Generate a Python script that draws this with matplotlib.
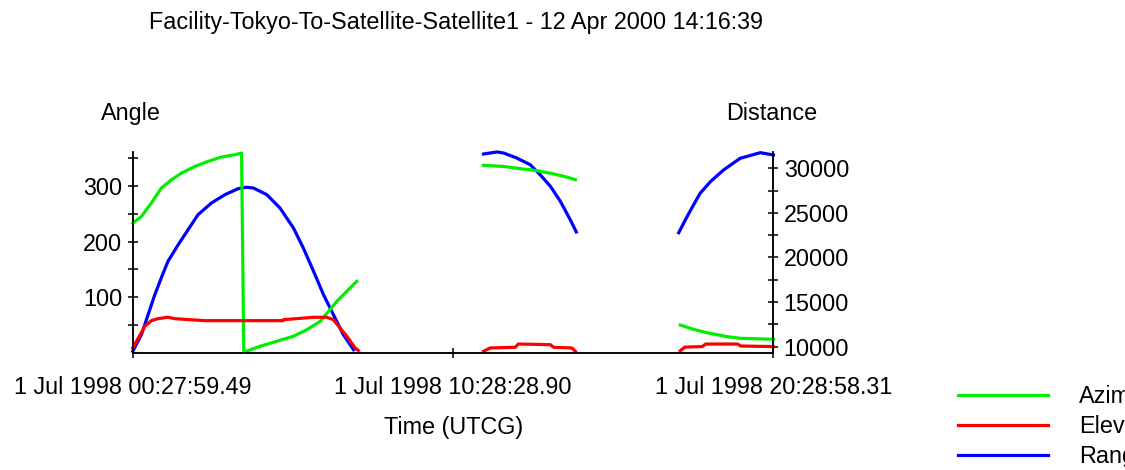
import numpy as np
import matplotlib
matplotlib.use("Agg")
import matplotlib.pyplot as plt

plt.rcParams['font.family'] = ['Liberation Sans', 'DejaVu Sans']

# time axis in hours after 1 Jul 1998 00:27:59.49
tick_hours = [0, 10.008, 20.016]
tick_labels = ['1 Jul 1998 00:27:59.49', '1 Jul 1998 10:28:28.90', '1 Jul 1998 20:28:58.31']

# pass 1
p1_az_t = [0, 0.27, 0.58, 0.89, 1.21, 1.52, 1.94, 2.35, 2.77, 3.19, 3.40, 3.47,
           3.98, 4.50, 5.02, 5.44, 5.86, 6.12, 6.38, 6.69, 7.00]
p1_az = [233, 245, 269, 296, 311, 323, 335, 344, 352, 356, 359, 1,
         11.5, 20.5, 29.5, 41.4, 56.5, 74.5, 92.5, 110.5, 128.5]
p1_el_t = [0, 0.17, 0.38, 0.58, 0.79, 1.10, 1.31, 2.25, 4.70, 4.71, 5.65, 6.06,
           6.27, 6.48, 6.69, 6.95, 7.05]
p1_el = [8.5, 26, 47.5, 57.6, 61.2, 63.7, 61.2, 57.6, 57.6, 59.4, 63.7, 63.7,
         59.4, 44.4, 29.5, 8.5, 4]
p1_rg_t = [0, 0.27, 0.48, 0.69, 0.89, 1.10, 1.42, 1.73, 2.04, 2.46, 2.88, 3.29,
           3.55, 3.77, 4.19, 4.60, 5.02, 5.33, 5.65, 5.96, 6.27, 6.58, 6.90]
p1_rg = [9480, 11350, 13590, 15830, 17700, 19570, 21430, 23120, 24800, 26110, 27040, 27710,
         27870, 27790, 27040, 25550, 23310, 21060, 18450, 15830, 13590, 11350, 9660]

# pass 2
p2_az_t = [10.96, 11.59, 12.11, 12.63, 13.15, 13.57, 13.83]
p2_az = [337, 335, 331, 327.5, 321.6, 315.6, 311.3]
p2_el_t = [10.96, 11.17, 11.95, 12.05, 13.05, 13.15, 13.72, 13.83]
p2_el = [2.5, 8.5, 9.7, 15.6, 14.4, 9.7, 8.5, 2.5]
p2_rg_t = [10.96, 11.38, 11.59, 12.00, 12.42, 12.73, 13.05, 13.36, 13.67, 13.86]
p2_rg = [31600, 31830, 31710, 31150, 30400, 29280, 27980, 26300, 24240, 22860]

# pass 3
p3_az_t = [17.11, 17.52, 17.94, 18.57, 18.98, 20.02]
p3_az = [49.8, 42, 36, 28.8, 25.9, 24.1]
p3_el_t = [17.11, 17.25, 17.8, 17.9, 18.9, 19.0, 20.02]
p3_el = [3.6, 10, 11, 15.6, 15.6, 12, 11]
p3_rg_t = [17.06, 17.32, 17.52, 17.73, 18.05, 18.46, 18.98, 19.61, 20.02]
p3_rg = [22780, 24570, 25880, 27200, 28500, 29810, 31120, 31750, 31490]

green = '#00ee00'
red = '#ff0000'
blue = '#0000ff'
lw = 2.3
fs = 16.8

fig = plt.figure(figsize=(11.25, 4.7), dpi=100)
ax = fig.add_axes([0.118, 0.2496, 0.5694, 0.427])
ax2 = ax.twinx()

ax.set_zorder(2)
ax.patch.set_visible(False)

l_az, = ax.plot(p1_az_t, p1_az, color=green, lw=lw, clip_on=False)
ax.plot(p2_az_t, p2_az, color=green, lw=lw, clip_on=False)
ax.plot(p3_az_t, p3_az, color=green, lw=lw, clip_on=False)
l_el, = ax.plot(p1_el_t, p1_el, color=red, lw=lw, clip_on=False)
ax.plot(p2_el_t, p2_el, color=red, lw=lw, clip_on=False)
ax.plot(p3_el_t, p3_el, color=red, lw=lw, clip_on=False)
l_rg, = ax2.plot(p1_rg_t, p1_rg, color=blue, lw=lw, clip_on=False)
ax2.plot(p2_rg_t, p2_rg, color=blue, lw=lw, clip_on=False)
ax2.plot(p3_rg_t, p3_rg, color=blue, lw=lw, clip_on=False)

ax.set_xlim(0, 20.016)
ax.set_ylim(0, 361)
ax2.set_ylim(9327, 31826)

for a in (ax, ax2):
    a.spines['top'].set_visible(False)
    for s in a.spines.values():
        s.set_linewidth(1.1)

ax.set_yticks([100, 200, 300])
ax.set_yticks([50, 150, 250, 350], minor=True)
ax2.set_yticks([10000, 15000, 20000, 25000, 30000])
ax2.set_yticks([12500, 17500, 22500, 27500], minor=True)
ax.set_xticks(tick_hours)
ax.set_xticklabels(tick_labels)

for a in (ax, ax2):
    a.tick_params(which='both', direction='inout', length=7, width=1.1,
                  labelsize=fs, pad=4)
ax.tick_params(axis='x', pad=13)

fig.text(0.405, 0.953, 'Facility-Tokyo-To-Satellite-Satellite1 - 12 Apr 2000 14:16:39',
         ha='center', va='center', fontsize=fs)
fig.text(0.1164, 0.745, 'Angle', ha='center', va='baseline', fontsize=fs)
fig.text(0.686, 0.745, 'Distance', ha='center', va='baseline', fontsize=fs)
fig.text(0.403, 0.0894, 'Time (UTCG)', ha='center', va='center', fontsize=fs)

fig.legend([l_az, l_el, l_rg], ['Azimuth', 'Elevation', 'Range'],
           loc='upper left', bbox_to_anchor=(958 / 1125, 0.18),
           frameon=False, borderpad=0, borderaxespad=0, fontsize=fs,
           handlelength=3.85, handletextpad=1.35, labelspacing=0.3)

fig.savefig('out.png', dpi=100)
